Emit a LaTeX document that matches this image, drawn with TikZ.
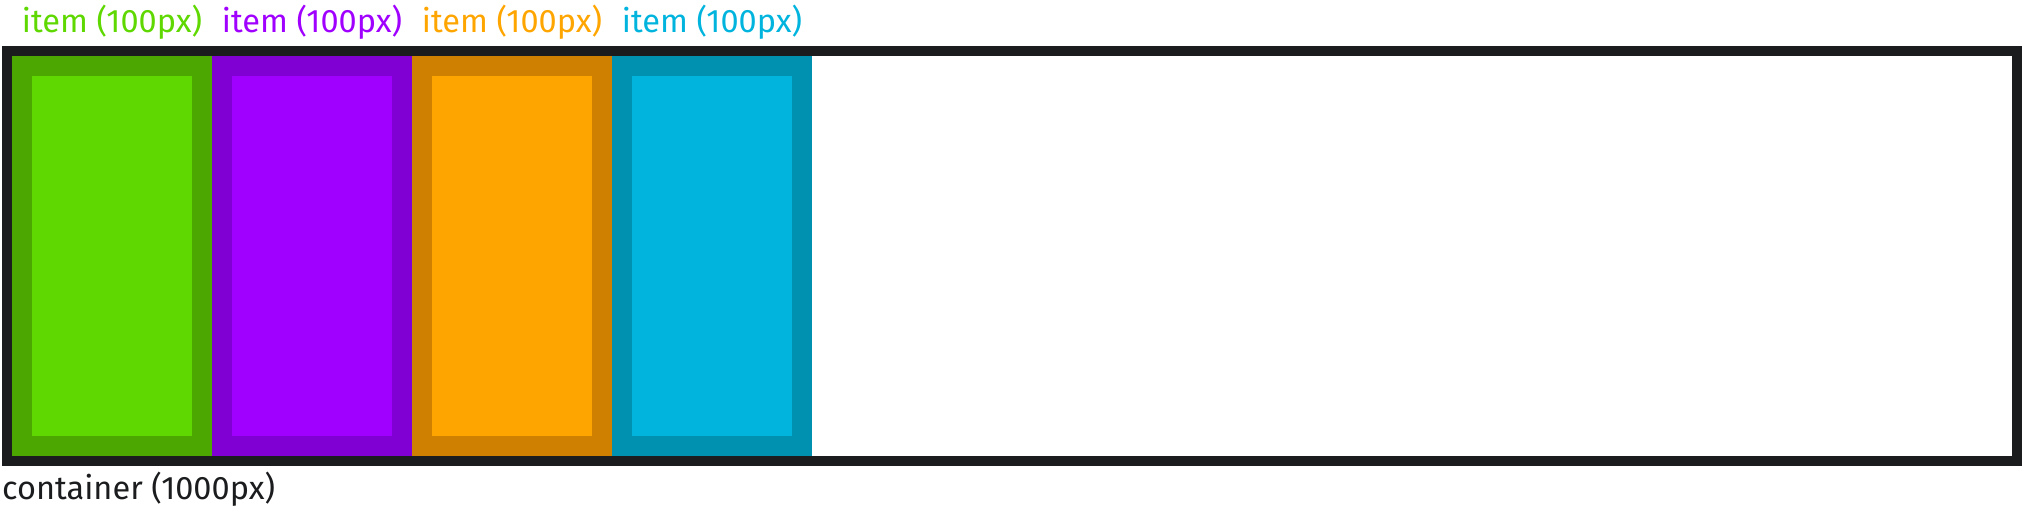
\documentclass[tikz,border=0pt]{standalone}
\usepackage{fontspec}
\setmainfont{Fira Sans}
\definecolor{dark}{HTML}{1B1C1E}
\definecolor{gOut}{HTML}{4CA800}
\definecolor{gIn}{HTML}{5ED800}
\definecolor{pOut}{HTML}{8000D4}
\definecolor{pIn}{HTML}{A000FF}
\definecolor{oOut}{HTML}{D08000}
\definecolor{oIn}{HTML}{FFA500}
\definecolor{bOut}{HTML}{0090B0}
\definecolor{bIn}{HTML}{00B4DE}
\tikzset{
  outerbox/.style={rectangle, inner sep=0pt, outer sep=0pt, minimum width=200pt, minimum height=400pt, anchor=north west},
  innerbox/.style={rectangle, inner sep=0pt, outer sep=0pt, minimum width=160pt, minimum height=360pt},
  lbl/.style={inner sep=0pt, anchor=base, font=\fontsize{32.5}{39}\selectfont},
  containerbox/.style={rectangle, draw=dark, line width=10pt, inner sep=0pt, outer sep=0pt, minimum width=2010pt, minimum height=410pt, anchor=north west}
}
\begin{document}
\begin{tikzpicture}[x=1pt,y=-1pt]
\useasboundingbox (0,0) rectangle (2022,512);
\node[containerbox] (cont) at (7,51) {};
\node[outerbox, fill=gOut] (o1) at (12,56) {};
\node[innerbox, fill=gIn] (i1) at (o1.center) {};
\node[outerbox, fill=pOut] (o2) at (212,56) {};
\node[innerbox, fill=pIn] (i2) at (o2.center) {};
\node[outerbox, fill=oOut] (o3) at (412,56) {};
\node[innerbox, fill=oIn] (i3) at (o3.center) {};
\node[outerbox, fill=bOut] (o4) at (612,56) {};
\node[innerbox, fill=bIn] (i4) at (o4.center) {};
\node[lbl, text=gIn] (l1) at (112,32) {item (100px)};
\node[lbl, text=pIn] (l2) at (312,32) {item (100px)};
\node[lbl, text=oIn] (l3) at (512,32) {item (100px)};
\node[lbl, text=bIn] (l4) at (712,32) {item (100px)};
\node[lbl, text=dark, anchor=base west] (lc) at (2,499) {container (1000px)};
\end{tikzpicture}
\end{document}
